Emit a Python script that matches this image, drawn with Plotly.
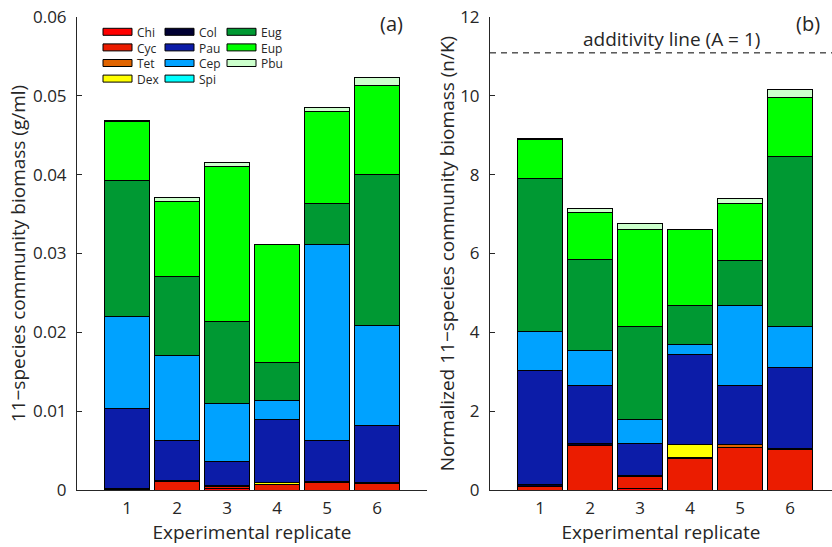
import plotly.graph_objects as go
from plotly.subplots import make_subplots

replicates = [1, 2, 3, 4, 5, 6]
species = ["Chi", "Cyc", "Tet", "Dex", "Col", "Pau", "Cep", "Spi", "Eug", "Eup", "Pbu"]
colors = ["#FF0000", "#EB1C00", "#E06400", "#FFFF00", "#000033", "#0C1CA8",
          "#00A2FF", "#00FFFF", "#009933", "#00FF00", "#CCFFCC"]

# panel (a): biomass (g/ml)
biomass = {
    "Chi": [0, 0, 0.0002, 0, 0, 0],
    "Cyc": [0.0001, 0.0011, 0.0002, 0.0007, 0.0009, 0.0008],
    "Tet": [0, 0, 0.0002, 0, 0.0002, 0.0002],
    "Dex": [0, 0, 0, 0.0002, 0, 0],
    "Col": [0.0001, 0.0001, 0, 0, 0, 0],
    "Pau": [0.0102, 0.0051, 0.0030, 0.0081, 0.0052, 0.0072],
    "Cep": [0.0116, 0.0107, 0.0074, 0.0024, 0.0249, 0.0127],
    "Spi": [0, 0, 0, 0, 0, 0],
    "Eug": [0.0172, 0.0101, 0.0104, 0.0048, 0.0051, 0.0191],
    "Eup": [0.0076, 0.0095, 0.0197, 0.0149, 0.0117, 0.0113],
    "Pbu": [0.0001, 0.0005, 0.0004, 0, 0.0005, 0.0010],
}

# panel (b): normalized biomass (n/K)
normalized = {
    "Chi": [0, 0, 0.03, 0, 0, 0],
    "Cyc": [0.10, 1.14, 0.31, 0.79, 1.09, 1.02],
    "Tet": [0, 0, 0.02, 0.03, 0.06, 0.03],
    "Dex": [0, 0, 0, 0.34, 0, 0],
    "Col": [0.05, 0.05, 0, 0, 0, 0],
    "Pau": [2.89, 1.45, 0.83, 2.27, 1.49, 2.07],
    "Cep": [0.97, 0.89, 0.61, 0.25, 2.03, 1.04],
    "Spi": [0, 0, 0, 0, 0, 0],
    "Eug": [3.89, 2.32, 2.36, 1.01, 1.16, 4.31],
    "Eup": [0.98, 1.18, 2.46, 1.91, 1.45, 1.50],
    "Pbu": [0.03, 0.12, 0.13, 0, 0.12, 0.20],
}

additivity_value = 11.09
y_ticks_a = [0, 0.01, 0.02, 0.03, 0.04, 0.05, 0.06]
y_ticks_b = [0, 2, 4, 6, 8, 10, 12]

FONT = "Open Sans"
TXT = "#262626"

fig = make_subplots(rows=1, cols=2, horizontal_spacing=0.0)

for sp, col in zip(species, colors):
    fig.add_trace(go.Bar(x=replicates, y=biomass[sp], name=sp, marker_color=col,
                         marker_line=dict(color="#000000", width=1), showlegend=False),
                  row=1, col=1)
    fig.add_trace(go.Bar(x=replicates, y=normalized[sp], name=sp, marker_color=col,
                         marker_line=dict(color="#000000", width=1), showlegend=False),
                  row=1, col=2)

W, H = 832, 547
ML, MR, MT, MB = 77, 0, 17, 57
PW, PH = W - ML - MR, H - MT - MB


def px_x(p):
    return (p - ML) / PW


def px_y(p):
    return (H - MB - p) / PH


TICKFONT = dict(family=FONT, size=17, color=TXT)
TITLEFONT = dict(family=FONT, size=19, color=TXT)

axis_common = dict(showline=True, linecolor="#262626", linewidth=1,
                   ticklen=5, tickcolor="#262626", showgrid=False, zeroline=False,
                   tickfont=TICKFONT, mirror=False)

fig.update_layout(
    width=W, height=H, margin=dict(l=ML, r=MR, t=MT, b=MB),
    plot_bgcolor="white", paper_bgcolor="white", barmode="stack", bargap=0.1,
    font=dict(family=FONT, color=TXT),
    xaxis=dict(domain=[0, px_x(427)], range=[0, 7], tickvals=replicates,
               ticks="", ticklabelstandoff=3,
               title=dict(text="Experimental replicate", font=TITLEFONT, standoff=6),
               **axis_common),
    xaxis2=dict(domain=[px_x(490), 1], range=[0, (W - 490) / 50], tickvals=replicates,
                ticks="", ticklabelstandoff=3,
                title=dict(text="Experimental replicate", font=TITLEFONT, standoff=6),
                **axis_common),
    yaxis=dict(range=[0, 0.06], tickvals=y_ticks_a, ticktext=[str(v) if v else "0" for v in y_ticks_a],
               ticks="inside", ticklabelstandoff=6,
               title=dict(text="11\u2212species community biomass (g/ml)", font=TITLEFONT, standoff=2),
               **axis_common),
    yaxis2=dict(range=[0, 12], tickvals=y_ticks_b, ticks="inside", ticklabelstandoff=6,
                title=dict(text="Normalized 11\u2212species community biomass (n/K)", font=TITLEFONT, standoff=0),
                **axis_common),
)

# additivity line
fig.add_shape(type="line", xref="x2", yref="y2", x0=0, x1=(W - 490) / 50,
              y0=additivity_value, y1=additivity_value,
              line=dict(color="#000000", width=1, dash="6px,5px"))
fig.add_annotation(xref="x2", yref="y2", x=3.62, y=additivity_value, yshift=14,
                   text="additivity line (A = 1)", showarrow=False,
                   font=dict(family=FONT, size=19, color=TXT))

# panel labels
fig.add_annotation(xref="paper", yref="paper", x=px_x(391), y=px_y(24), text="(a)",
                   xanchor="center", yanchor="middle",
                   showarrow=False, font=dict(family=FONT, size=20, color=TXT))
fig.add_annotation(xref="paper", yref="paper", x=px_x(808), y=px_y(24), text="(b)",
                   xanchor="center", yanchor="middle",
                   showarrow=False, font=dict(family=FONT, size=20, color=TXT))

# legend (Matlab-style, 3 columns x 4 rows); one multi-line text per column
LEG_FS = 12
LH = 1.3 * LEG_FS
TOP = 23
ROWS = 4
for c in range(3):
    names = species[c * ROWS:(c + 1) * ROWS]
    cols_ = colors[c * ROWS:(c + 1) * ROWS]
    bx0 = 103 + c * 62
    for r, col in enumerate(cols_):
        cy = TOP + (r + 0.5) * LH + 1
        fig.add_shape(type="rect", xref="paper", yref="paper",
                      x0=px_x(bx0), x1=px_x(bx0 + 29), y0=px_y(cy + 3.5), y1=px_y(cy - 3.5),
                      fillcolor=col, line=dict(color="#000000", width=1))
    fig.add_annotation(xref="paper", yref="paper", x=px_x(bx0 + 33), y=px_y(TOP),
                       xanchor="left", yanchor="top", align="left",
                       text="<br>".join(names), showarrow=False,
                       borderpad=0, font=dict(family=FONT, size=LEG_FS, color=TXT))

fig.write_html("out.html")
